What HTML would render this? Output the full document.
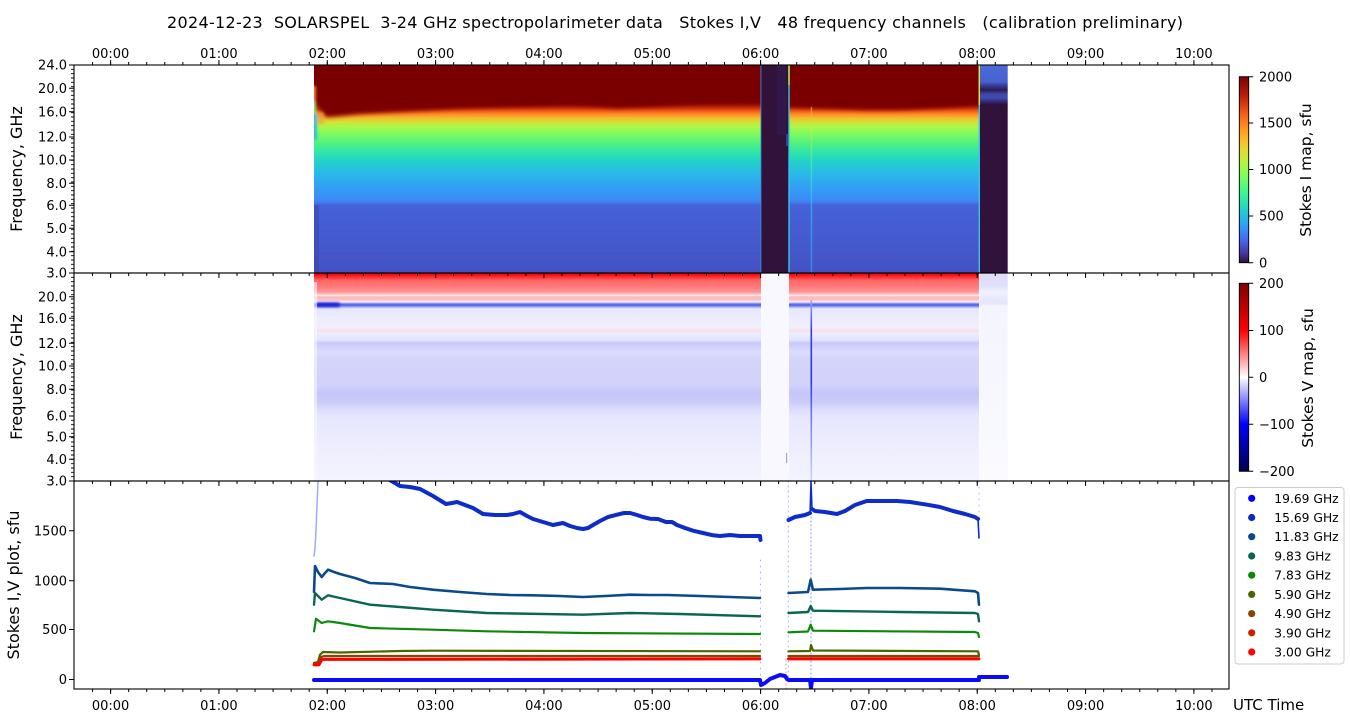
<!DOCTYPE html>
<html><head><meta charset="utf-8">
<style>
html,body{margin:0;padding:0;background:#fff;width:1350px;height:725px;overflow:hidden}
svg{display:block}
text{font-family:"DejaVu Sans","Liberation Sans",sans-serif;fill:#000}
.t13{font-size:13px}
.lab{font-size:16px}
</style></head><body>
<svg width="1350" height="725" viewBox="0 0 1350 725" xmlns="http://www.w3.org/2000/svg">
<defs>
<linearGradient id="turbo" x1="0" y1="1" x2="0" y2="0">
<stop offset="0" stop-color="#30123b"/><stop offset="0.05" stop-color="#46369a"/><stop offset="0.1" stop-color="#4958dd"/><stop offset="0.15" stop-color="#3d7bf7"/><stop offset="0.2" stop-color="#2f9ef5"/><stop offset="0.25" stop-color="#26bde1"/><stop offset="0.3" stop-color="#27d7c3"/><stop offset="0.35" stop-color="#35eca2"/><stop offset="0.4" stop-color="#4ef983"/><stop offset="0.45" stop-color="#6ffe67"/><stop offset="0.5" stop-color="#96fa50"/><stop offset="0.55" stop-color="#bdef3e"/><stop offset="0.6" stop-color="#dfdc32"/><stop offset="0.65" stop-color="#f9c229"/><stop offset="0.7" stop-color="#ffa323"/><stop offset="0.75" stop-color="#ff801e"/><stop offset="0.8" stop-color="#f45d17"/><stop offset="0.85" stop-color="#d93b10"/><stop offset="0.9" stop-color="#b82008"/><stop offset="0.95" stop-color="#9a1005"/><stop offset="1" stop-color="#7a0403"/>
</linearGradient>
<linearGradient id="seis" x1="0" y1="1" x2="0" y2="0">
<stop offset="0" stop-color="#00004c"/><stop offset="0.25" stop-color="#0000ff"/><stop offset="0.5" stop-color="#ffffff"/><stop offset="0.75" stop-color="#ff0000"/><stop offset="1" stop-color="#800000"/>
</linearGradient>
<linearGradient id="gI" gradientUnits="userSpaceOnUse" x1="0" y1="65" x2="0" y2="273">
<stop offset="0" stop-color="#7a0403"/><stop offset="0.178" stop-color="#7a0403"/><stop offset="0.192" stop-color="#9a1005"/><stop offset="0.207" stop-color="#c8300a"/><stop offset="0.221" stop-color="#f05a16"/><stop offset="0.236" stop-color="#fe8a22"/><stop offset="0.255" stop-color="#f5bb2e"/><stop offset="0.274" stop-color="#d5e035"/><stop offset="0.298" stop-color="#a8f84a"/><stop offset="0.332" stop-color="#7efa60"/><stop offset="0.375" stop-color="#52f27e"/><stop offset="0.418" stop-color="#2fe6a8"/><stop offset="0.466" stop-color="#22d0cc"/><stop offset="0.524" stop-color="#2ab8e8"/><stop offset="0.591" stop-color="#339ef6"/><stop offset="0.649" stop-color="#3b8af5"/><stop offset="0.663" stop-color="#4178ec"/><stop offset="0.673" stop-color="#4562d8"/><stop offset="0.793" stop-color="#455cd2"/><stop offset="1" stop-color="#4352c4"/>
</linearGradient>
<linearGradient id="gLast" gradientUnits="userSpaceOnUse" x1="0" y1="65" x2="0" y2="273">
<stop offset="0" stop-color="#4a6ad8"/><stop offset="0.08" stop-color="#4662d0"/><stop offset="0.1" stop-color="#383a94"/><stop offset="0.12" stop-color="#2f1a52"/><stop offset="0.14" stop-color="#3c48a8"/><stop offset="0.158" stop-color="#3e4cb0"/><stop offset="0.175" stop-color="#352a78"/><stop offset="0.19" stop-color="#30123b"/><stop offset="1" stop-color="#30123b"/>
</linearGradient>
<linearGradient id="gV" gradientUnits="userSpaceOnUse" x1="0" y1="273" x2="0" y2="481">
<stop offset="0" stop-color="#ff0000"/><stop offset="0.019" stop-color="#ff2a2a"/><stop offset="0.034" stop-color="#ff6464"/><stop offset="0.0625" stop-color="#ff7878"/><stop offset="0.091" stop-color="#ff9494"/><stop offset="0.103" stop-color="#ffc8c8"/><stop offset="0.108" stop-color="#fff4f4"/><stop offset="0.115" stop-color="#ffb4b4"/><stop offset="0.13" stop-color="#ffc4c4"/><stop offset="0.139" stop-color="#f4f4ff"/><stop offset="0.147" stop-color="#8090f0"/><stop offset="0.154" stop-color="#4858e8"/><stop offset="0.161" stop-color="#8898f0"/><stop offset="0.171" stop-color="#e6e6ff"/><stop offset="0.216" stop-color="#ececfe"/><stop offset="0.264" stop-color="#f2eefa"/><stop offset="0.279" stop-color="#fadce4"/><stop offset="0.288" stop-color="#eeeefe"/><stop offset="0.322" stop-color="#e2e2fe"/><stop offset="0.337" stop-color="#c8c8fc"/><stop offset="0.356" stop-color="#d2d2fc"/><stop offset="0.38" stop-color="#dcdcfc"/><stop offset="0.418" stop-color="#d4d4fa"/><stop offset="0.538" stop-color="#d2d2fa"/><stop offset="0.577" stop-color="#c6c6f8"/><stop offset="0.62" stop-color="#caccf8"/><stop offset="0.654" stop-color="#dcdcfc"/><stop offset="0.688" stop-color="#e6e6fe"/><stop offset="0.803" stop-color="#ececfe"/><stop offset="1" stop-color="#f4f4ff"/>
</linearGradient>
<linearGradient id="gVlast" gradientUnits="userSpaceOnUse" x1="0" y1="273" x2="0" y2="481">
<stop offset="0" stop-color="#dcdcf8"/><stop offset="0.06" stop-color="#e0e0fa"/><stop offset="0.09" stop-color="#f0f0fe"/><stop offset="0.145" stop-color="#e4e4fc"/><stop offset="0.16" stop-color="#f4f4fe"/><stop offset="1" stop-color="#fafaff"/>
</linearGradient>
<linearGradient id="gVline" gradientUnits="userSpaceOnUse" x1="0" y1="300" x2="0" y2="481">
<stop offset="0" stop-color="#a0a8f4"/><stop offset="0.17" stop-color="#3040e0"/><stop offset="0.45" stop-color="#2a3ae0"/><stop offset="0.6" stop-color="#6070e8"/><stop offset="1" stop-color="#d0d4f8"/>
</linearGradient>
<linearGradient id="gIline" gradientUnits="userSpaceOnUse" x1="0" y1="105" x2="0" y2="273">
<stop offset="0" stop-color="#f08030"/><stop offset="0.12" stop-color="#c8f040"/><stop offset="0.38" stop-color="#40e8b0"/><stop offset="0.62" stop-color="#30b0f0"/><stop offset="1" stop-color="#3a90f0"/>
</linearGradient>
<clipPath id="cTop"><rect x="74" y="65" width="1155" height="208"/></clipPath>
<clipPath id="cMid"><rect x="74" y="273" width="1155" height="208"/></clipPath>
<clipPath id="cBot"><rect x="74" y="481" width="1155" height="208"/></clipPath>
<clipPath id="cS1"><rect x="314" y="65" width="447" height="208"/></clipPath>
<clipPath id="cS2"><rect x="789" y="65" width="190" height="208"/></clipPath>
<filter id="b2" x="-10%" y="-30%" width="120%" height="160%"><feGaussianBlur stdDeviation="2"/></filter>
<filter id="b1" x="-50%" y="-50%" width="200%" height="200%"><feGaussianBlur stdDeviation="1.2"/></filter>
<path id="minx" d="M92.55,0v3m18.055,-3v3m18.055,-3v3m18.055,-3v3m18.055,-3v3m18.055,-3v3m18.055,-3v3m18.055,-3v3m18.055,-3v3m18.055,-3v3m18.055,-3v3m18.055,-3v3m18.055,-3v3m18.055,-3v3m18.055,-3v3m18.055,-3v3m18.055,-3v3m18.055,-3v3m18.055,-3v3m18.055,-3v3m18.055,-3v3m18.055,-3v3m18.055,-3v3m18.055,-3v3m18.055,-3v3m18.055,-3v3m18.055,-3v3m18.055,-3v3m18.055,-3v3m18.055,-3v3m18.055,-3v3m18.055,-3v3m18.055,-3v3m18.055,-3v3m18.055,-3v3m18.055,-3v3m18.055,-3v3m18.055,-3v3m18.055,-3v3m18.055,-3v3m18.055,-3v3m18.055,-3v3m18.055,-3v3m18.055,-3v3m18.055,-3v3m18.055,-3v3m18.055,-3v3m18.055,-3v3m18.055,-3v3m18.055,-3v3m18.055,-3v3m18.055,-3v3m18.055,-3v3m18.055,-3v3m18.055,-3v3m18.055,-3v3m18.055,-3v3m18.055,-3v3m18.055,-3v3m18.055,-3v3m18.055,-3v3m18.055,-3v3m18.055,-3v3" stroke="#000" stroke-width="1" fill="none"/>
<path id="majx" d="M110.6,0v5m108.33,-5v5m108.33,-5v5m108.33,-5v5m108.33,-5v5m108.33,-5v5m108.33,-5v5m108.33,-5v5m108.33,-5v5m108.33,-5v5m108.33,-5v5" stroke="#000" stroke-width="1" fill="none"/>
<path id="miny" d="M71,65h3m-3,4.3333h3m-3,4.3333h3m-3,4.3333h3m-3,4.3333h3m-3,4.3333h3m-3,4.3333h3m-3,4.3333h3m-3,4.3333h3m-3,4.3333h3m-3,4.3333h3m-3,4.3333h3m-3,4.3333h3m-3,4.3333h3m-3,4.3333h3m-3,4.3333h3m-3,4.3333h3m-3,4.3333h3m-3,4.3333h3m-3,4.3333h3m-3,4.3333h3m-3,4.3333h3m-3,4.3333h3m-3,4.3333h3m-3,4.3333h3m-3,4.3333h3m-3,4.3333h3m-3,4.3333h3m-3,4.3333h3m-3,4.3333h3m-3,4.3333h3m-3,4.3333h3m-3,4.3333h3m-3,4.3333h3m-3,4.3333h3m-3,4.3333h3m-3,4.3333h3m-3,4.3333h3m-3,4.3333h3m-3,4.3333h3m-3,4.3333h3m-3,4.3333h3m-3,4.3333h3m-3,4.3333h3m-3,4.3333h3m-3,4.3333h3m-3,4.3333h3m-3,4.3333h3" stroke="#000" stroke-width="0.9" fill="none"/>
</defs>

<rect width="1350" height="725" fill="#fff"/>

<!-- Title -->
<text x="675" y="28" text-anchor="middle" style="font-size:16px;white-space:pre" textLength="1016" lengthAdjust="spacing">2024-12-23  SOLARSPEL  3-24 GHz spectropolarimeter data   Stokes I,V   48 frequency channels   (calibration preliminary)</text>

<!-- ============ TOP PANEL: Stokes I map ============ -->
<g clip-path="url(#cTop)">
  <g clip-path="url(#cS1)">
    <rect x="314" y="65" width="447" height="208" fill="url(#gI)"/>
    <path fill="#7a0403" filter="url(#b2)" d="M300,55 L775,55 L775,101.5 L740,101.5 L700,103 L660,106 L617,108 L590,106 L567,105 L520,106.5 L467,108 L400,111.7 L360,114 L333,116.7 L326,117 L320,110 L316,95 L300,85 Z"/>
    <g filter="url(#b1)">
      <rect x="312" y="86" width="4" height="18" fill="#f08030"/>
      <rect x="312" y="102" width="4" height="14" fill="#7ef070"/>
      <rect x="312" y="114" width="5" height="26" fill="#28c0e0"/>
      <rect x="317" y="112" width="7" height="12" fill="#e8a040" opacity="0.6"/>
    </g>
    <rect x="314" y="205" width="5" height="68" fill="#3a44a8" opacity="0.5"/>
    <rect x="314" y="230" width="447" height="1.5" fill="#3e50c0" opacity="0.3"/>
    <rect x="314" y="252" width="447" height="1.5" fill="#3e50c0" opacity="0.3"/>
  </g>
  <g clip-path="url(#cS2)">
    <rect x="789" y="65" width="190" height="208" fill="url(#gI)"/>
    <path fill="#7a0403" filter="url(#b2)" d="M775,55 L995,55 L995,104 L975,105 L955,107 L940,108 L900,110 L866,110 L840,109 L811,108 L789,106.7 L775,106.7 Z"/>
  </g>
  <!-- gaps -->
  <rect x="761" y="65" width="28" height="208" fill="#30123b"/>
  <rect x="777" y="65" width="9" height="70" fill="#3d3a8a" opacity="0.18"/>
  <rect x="786" y="134" width="2" height="12" fill="#4060d0" opacity="0.6"/>
  <rect x="760.3" y="65" width="1.2" height="208" fill="#3890e0" opacity="0.7"/>
  <rect x="788.3" y="65" width="1.4" height="208" fill="#30c8e8"/>
  <rect x="788.3" y="65" width="1.4" height="20" fill="#b8f040"/>
  <rect x="979.5" y="65" width="28.2" height="208" fill="url(#gLast)"/>
  <rect x="978.6" y="65" width="1.4" height="208" fill="#40c0e8"/>
  <rect x="978.6" y="65" width="1.4" height="40" fill="#e0e040"/>
  <rect x="810.7" y="107" width="1.5" height="166" fill="url(#gIline)" opacity="0.8"/>
</g>

<!-- ============ MIDDLE PANEL: Stokes V map ============ -->
<g clip-path="url(#cMid)">
  <rect x="314" y="273" width="447" height="208" fill="url(#gV)"/>
  <rect x="789" y="273" width="190" height="208" fill="url(#gV)"/>
  <rect x="761" y="273" width="28" height="208" fill="#f8f8fe"/>
  <rect x="979.5" y="273" width="28.2" height="208" fill="url(#gVlast)"/>
  <rect x="316" y="302.5" width="24" height="4.5" rx="2" fill="#1a22d8" filter="url(#b1)"/>
  <rect x="314" y="282" width="3" height="199" fill="#f6f6ff" opacity="0.6"/>
  <rect x="314" y="273" width="447" height="1.5" fill="#e00000"/>
  <rect x="789" y="273" width="190" height="1.5" fill="#e00000"/>
  <rect x="810.5" y="300" width="1.6" height="181" fill="url(#gVline)"/>
  <rect x="786" y="453" width="1.2" height="10" fill="#6070e8" opacity="0.6"/>
</g>

<!-- ============ BOTTOM PANEL: lines ============ -->
<g clip-path="url(#cBot)" fill="none" stroke-linejoin="round" stroke-linecap="round">
  <polyline points="314,556 315,548 316,530 318,481" stroke="#8896f0" stroke-width="1.5" opacity="0.8"/>
  <line x1="788.3" y1="481" x2="788.3" y2="679" stroke="#6070e8" stroke-width="1" stroke-dasharray="1 4" opacity="0.6"/>
  <line x1="811" y1="481" x2="811" y2="680" stroke="#4060e0" stroke-width="1" stroke-dasharray="1 3" opacity="0.7"/>
  <line x1="979" y1="481" x2="979" y2="540" stroke="#6070e8" stroke-width="1" stroke-dasharray="1 5" opacity="0.5"/>
  <line x1="760.5" y1="560" x2="760.5" y2="680" stroke="#6070e8" stroke-width="1" stroke-dasharray="1 5" opacity="0.5"/>
  <line x1="786" y1="660" x2="786" y2="690" stroke="#e04040" stroke-width="1" stroke-dasharray="1 3" opacity="0.6"/>

  <!-- 15.69 GHz -->
  <polyline stroke="#0c2ccc" stroke-width="4" points="388,479 400,486 410,487 420,489 433,496 446,504 452,503 457,502 465,505 473,508 483,514 495,515 507,515 513,514 520,512 527,516 533,519 543,522 553,525 558,524 563,523 570,526 577,528 583,529 588,528 593,525 600,521 608,517 617,514.7 624,513 630,513 637,515 643,517 650,518.7 658,519 666,522 672,522 677,525 685,528 693,530.7 703,533 713,535.3 720,536 730,535 740,536 750,536 760,536 760.5,540"/>
  <polyline stroke="#0c2ccc" stroke-width="4" points="788.5,520 795,517 805,515 810,513"/>
  <polyline stroke="#0c2ccc" stroke-width="1.5" points="810,513 811,481 812,508"/>
  <polyline stroke="#0c2ccc" stroke-width="4" points="812,509 815,511 825,512 837,514 845,511 855,505 866.7,501 880,501 897,501 910,502 927,504.7 940,507 953,511 965,514 975,517 978,519"/>
  <polyline stroke="#0c2ccc" stroke-width="1.6" points="978,519 979,538"/>

  <!-- 11.83 GHz -->
  <polyline stroke="#0a4a8a" stroke-width="2.6" points="314,592 315,566 318,572 321.7,577 325,573 328,569.7 334,572 340,574 355,578 370,583 393,584 410,587 433,589.7 460,592 486.7,594 510,595 533,595.3 560,596 583,597 605,596 630,594.7 650,595 666.7,595 700,596 730,597 760,598"/>
  <polyline stroke="#0a4a8a" stroke-width="2.6" points="788.5,593 808,592 810.7,579.7 813,589.7 840,589 866.7,588 900,588 940,588.7 975,591.3 978,593 979,604.7"/>

  <!-- 9.83 GHz -->
  <polyline stroke="#0a6652" stroke-width="2.4" points="314,604.7 315,593 318,596 321.7,599.7 328,595.3 340,598 370,604.7 400,607 433,609.7 486.7,613 583,614.7 630,613 680,614 760,616.3"/>
  <polyline stroke="#0a6652" stroke-width="2.4" points="788.5,613 808,612 810.7,606 813,610.7 900,612 975,613 978,614 979,621.3"/>

  <!-- 7.83 GHz -->
  <polyline stroke="#0a8a0a" stroke-width="2.2" points="314,631.3 316,618.7 321.7,623 328,621.3 340,623 370,628 433,629.7 486.7,631.3 583,633 760,634"/>
  <polyline stroke="#0a8a0a" stroke-width="2.2" points="788.5,632.3 808,631.5 810.7,624.7 813,630.7 975,632 978,633 979,637"/>

  <!-- 5.90 GHz -->
  <polyline stroke="#4a6600" stroke-width="2.2" points="314,663 318,662 320,654.7 323,652 340,652.5 400,651 433,650.7 760,651.3"/>
  <polyline stroke="#4a6600" stroke-width="2.2" points="788.5,651.3 810,651 811,645 813,650.5 978,651.3 979,655"/>

  <!-- 4.90 GHz -->
  <polyline stroke="#884400" stroke-width="2.2" points="314,663 318,663 321,657 324,656 760,656"/>
  <polyline stroke="#884400" stroke-width="2.2" points="788.5,656 979,656"/>

  <!-- 3.90 / 3.00 GHz -->
  <polyline stroke="#cc2200" stroke-width="2.4" points="314,664 319,664 322,659 760,658.5"/>
  <polyline stroke="#ff0000" stroke-width="2.8" points="314,665 319,665 322,659.5 760,659"/>
  <polyline stroke="#cc2200" stroke-width="2.4" points="788.5,658.5 979,658.5"/>
  <polyline stroke="#ff0000" stroke-width="2.8" points="788.5,659 979,659"/>

  <!-- near-zero V -->
  <polyline stroke="#0a0aff" stroke-width="4" points="314,680 760,680 761,685 765,683 770,679 775,677 780,675 785,676 787,679 788.5,680 810,680 811,688 812,680 979,680"/>
  <polyline stroke="#0a0aff" stroke-width="4" points="979,677 1007,677"/>
</g>

<!-- axes frames -->
<g fill="none" stroke="#000" stroke-width="1.1">
  <rect x="74" y="65" width="1155" height="208"/>
  <rect x="74" y="273" width="1155" height="208"/>
  <rect x="74" y="481" width="1155" height="208"/>
</g>

<!-- x ticks -->
<use href="#minx" transform="translate(0,65) scale(1,-1)"/>
<use href="#majx" transform="translate(0,65) scale(1,-1)"/>
<use href="#minx" transform="translate(0,273)"/>
<use href="#majx" transform="translate(0,273)"/>
<use href="#minx" transform="translate(0,481)"/>
<use href="#majx" transform="translate(0,481)"/>
<use href="#minx" transform="translate(0,689)"/>
<use href="#majx" transform="translate(0,689)"/>

<!-- y minor ticks freq -->
<use href="#miny"/>
<use href="#miny" transform="translate(0,208)"/>

<!-- y major ticks -->
<path stroke="#000" stroke-width="1" fill="none" d="M69,65h5M69,88.3h5M69,111.7h5M69,137h5M69,160h5M69,183.3h5M69,205.3h5M69,228.3h5M69,251.7h5M69,273h5
M69,296.7h5M69,318.3h5M69,343.3h5M69,366h5M69,389.3h5M69,416h5M69,436.7h5M69,459.3h5M69,481h5
M69,530.7h5M69,580.7h5M69,629.5h5M69,679.5h5"/>

<!-- top x labels -->
<g class="t13" text-anchor="middle">
<text x="110.6" y="58">00:00</text><text x="218.9" y="58">01:00</text><text x="327.3" y="58">02:00</text><text x="435.6" y="58">03:00</text><text x="543.9" y="58">04:00</text><text x="652.3" y="58">05:00</text><text x="760.6" y="58">06:00</text><text x="868.9" y="58">07:00</text><text x="977.2" y="58">08:00</text><text x="1085.6" y="58">09:00</text><text x="1193.9" y="58">10:00</text>
</g>
<!-- bottom x labels -->
<g class="t13" text-anchor="middle">
<text x="110.6" y="710">00:00</text><text x="218.9" y="710">01:00</text><text x="327.3" y="710">02:00</text><text x="435.6" y="710">03:00</text><text x="543.9" y="710">04:00</text><text x="652.3" y="710">05:00</text><text x="760.6" y="710">06:00</text><text x="868.9" y="710">07:00</text><text x="977.2" y="710">08:00</text><text x="1085.6" y="710">09:00</text><text x="1193.9" y="710">10:00</text>
</g>
<text x="1233" y="710" style="font-size:15px">UTC Time</text>

<!-- y labels -->
<g class="t13" text-anchor="end">
<text x="67" y="69.7">24.0</text><text x="67" y="93">20.0</text><text x="67" y="116.4">16.0</text><text x="67" y="141.7">12.0</text><text x="67" y="164.7">10.0</text><text x="67" y="188">8.0</text><text x="67" y="210">6.0</text><text x="67" y="233">5.0</text><text x="67" y="256.4">4.0</text><text x="67" y="277.7">3.0</text>
<text x="67" y="301.4">20.0</text><text x="67" y="323">16.0</text><text x="67" y="348">12.0</text><text x="67" y="370.7">10.0</text><text x="67" y="394">8.0</text><text x="67" y="420.7">6.0</text><text x="67" y="441.4">5.0</text><text x="67" y="464">4.0</text><text x="67" y="485.7">3.0</text>
<text x="67" y="535.4">1500</text><text x="67" y="585.4">1000</text><text x="67" y="634.2">500</text><text x="67" y="684.2">0</text>
</g>

<!-- axis labels -->
<text class="lab" text-anchor="middle" transform="translate(22,169) rotate(-90)">Frequency, GHz</text>
<text class="lab" text-anchor="middle" transform="translate(22,377) rotate(-90)">Frequency, GHz</text>
<text class="lab" text-anchor="middle" transform="translate(19,585) rotate(-90)">Stokes I,V plot, sfu</text>

<!-- colorbar I -->
<rect x="1239.3" y="76.7" width="9.4" height="186" fill="url(#turbo)" stroke="#000" stroke-width="0.9"/>
<path stroke="#000" stroke-width="1" d="M1248.7,76.7h4.5M1248.7,123h4.5M1248.7,169.5h4.5M1248.7,216h4.5M1248.7,262.7h4.5"/>
<g class="t13">
<text x="1259" y="81.4">2000</text><text x="1259" y="127.7">1500</text><text x="1259" y="174.2">1000</text><text x="1259" y="220.7">500</text><text x="1259" y="267.4">0</text>
</g>
<text text-anchor="middle" transform="translate(1311,170) rotate(-90)" style="font-size:15.5px">Stokes I map, sfu</text>

<!-- colorbar V -->
<rect x="1239.3" y="283.3" width="9.4" height="188" fill="url(#seis)" stroke="#000" stroke-width="0.9"/>
<path stroke="#000" stroke-width="1" d="M1248.7,283.3h4.5M1248.7,330.5h4.5M1248.7,377.3h4.5M1248.7,424.3h4.5M1248.7,471.3h4.5"/>
<g class="t13">
<text x="1259" y="288">200</text><text x="1259" y="335.2">100</text><text x="1259" y="382">0</text><text x="1259" y="429">−100</text><text x="1259" y="476">−200</text>
</g>
<text text-anchor="middle" transform="translate(1313,378) rotate(-90)" style="font-size:15.5px">Stokes V map, sfu</text>

<!-- legend -->
<rect x="1235" y="487.5" width="109" height="176.5" rx="3" fill="#fff" stroke="#cccccc" stroke-width="1"/>
<g>
<circle cx="1251.7" cy="498.3" r="3.6" fill="#0000ff"/>
<circle cx="1251.7" cy="517.5" r="3.6" fill="#0a2acc"/>
<circle cx="1251.7" cy="536.7" r="3.6" fill="#0a4a8a"/>
<circle cx="1251.7" cy="556" r="3.6" fill="#0a6652"/>
<circle cx="1251.7" cy="575.2" r="3.6" fill="#0a8a0a"/>
<circle cx="1251.7" cy="594.4" r="3.6" fill="#4a6600"/>
<circle cx="1251.7" cy="613.6" r="3.6" fill="#884400"/>
<circle cx="1251.7" cy="632.8" r="3.6" fill="#cc2200"/>
<circle cx="1251.7" cy="652" r="3.6" fill="#ff0000"/>
</g>
<g style="font-size:12.3px">
<text x="1274.3" y="502.8">19.69 GHz</text>
<text x="1274.3" y="522">15.69 GHz</text>
<text x="1274.3" y="541.2">11.83 GHz</text>
<text x="1274.3" y="560.5">9.83 GHz</text>
<text x="1274.3" y="579.7">7.83 GHz</text>
<text x="1274.3" y="598.9">5.90 GHz</text>
<text x="1274.3" y="618.1">4.90 GHz</text>
<text x="1274.3" y="637.3">3.90 GHz</text>
<text x="1274.3" y="656.5">3.00 GHz</text>
</g>
</svg>
</body></html>
